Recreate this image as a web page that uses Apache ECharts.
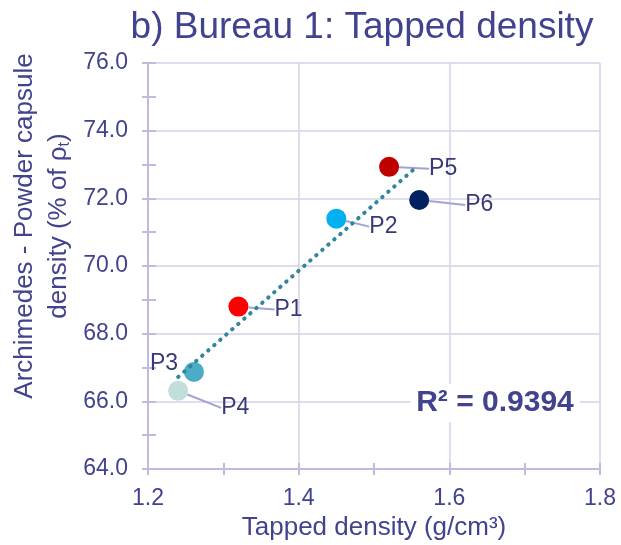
<!DOCTYPE html>
<html>
<head>
<meta charset="utf-8">
<script src="https://cdn.jsdelivr.net/npm/echarts@6/dist/echarts.min.js"></script>
<style>
  html, body { margin: 0; padding: 0; background: #fff; }
  #chart { width: 621px; height: 545px; }
</style>
</head>
<body>
<div id="chart"></div>
<script>
// data
const pointNames = ['P1', 'P2', 'P3', 'P4', 'P5', 'P6'];
const tappedDensity = [1.32, 1.45, 1.261, 1.24, 1.52, 1.56];
const capsuleDensity = [68.8, 71.4, 66.87, 66.31, 72.93, 71.95];
const trendX = [1.24, 1.555];
const trendY = [66.72, 72.9];
const rSquared = '0.9394';

// look
const pointColors = ['#ff0000', '#00b0f0', '#4bacc6', '#c2dedb', '#c00000', '#002060'];
const labelShift = [[21, 3], [18, 8], [-59, -8], [28, 17], [25, 2], [31, 5]];
const textColor = '#41438f';
const gridColor = '#d3d3ea';
const axisColor = '#bcbcde';

const chart = echarts.init(document.getElementById('chart'));

const points = pointNames.map(function (n, i) {
  return {
    name: n,
    value: [tappedDensity[i], capsuleDensity[i]],
    itemStyle: { color: pointColors[i], opacity: 1 },
    labelLine: { show: n !== 'P3' }
  };
});

const baseX = {
  type: 'value', min: 1.2, max: 1.8, interval: 0.2,
  axisLine: { show: true, lineStyle: { color: axisColor, width: 2 } }
};
const baseY = {
  type: 'value', min: 64, max: 76, interval: 2,
  axisLine: { show: true, lineStyle: { color: axisColor, width: 2 } }
};

chart.setOption({
  animation: false,
  title: {
    text: 'b) Bureau 1: Tapped density',
    left: 357, top: 4, textAlign: 'center',
    textStyle: { color: textColor, fontSize: 37, fontWeight: 'normal', fontFamily: 'Liberation Sans' }
  },
  grid: { left: 148, right: 21, top: 63, bottom: 76, outerBoundsMode: 'none' },
  xAxis: [
    Object.assign({}, baseX, {
      name: 'Tapped density (g/cm³)',
      nameLocation: 'middle', nameGap: 46,
      nameTextStyle: { color: textColor, fontSize: 26, fontFamily: 'Liberation Sans' },
      axisTick: { show: true, length: 6, lineStyle: { color: axisColor, width: 2 } },
      minorTick: { show: true, splitNumber: 2, length: 6, lineStyle: { color: axisColor, width: 2 } },
      axisLabel: { color: textColor, fontSize: 23, margin: 18, fontFamily: 'Liberation Sans',
        formatter: function (v) { return v.toFixed(1); } },
      splitLine: { show: true, lineStyle: { color: gridColor, width: 1.5 } }
    }),
    Object.assign({}, baseX, {
      position: 'bottom',
      axisTick: { show: true, inside: true, length: 6, lineStyle: { color: axisColor, width: 2 } },
      minorTick: { show: true, splitNumber: 2, length: 6, lineStyle: { color: axisColor, width: 2 } },
      axisLabel: { show: false },
      splitLine: { show: false }
    })
  ],
  yAxis: [
    Object.assign({}, baseY, {
      axisTick: { show: true, length: 6, lineStyle: { color: axisColor, width: 2 } },
      minorTick: { show: true, splitNumber: 2, length: 6, lineStyle: { color: axisColor, width: 2 } },
      axisLabel: { color: textColor, fontSize: 23, margin: 20, fontFamily: 'Liberation Sans',
        formatter: function (v) { return v.toFixed(1); } },
      splitLine: { show: true, lineStyle: { color: gridColor, width: 1.5 } }
    }),
    Object.assign({}, baseY, {
      position: 'left',
      axisTick: { show: true, inside: true, length: 8, lineStyle: { color: axisColor, width: 2 } },
      minorTick: { show: true, splitNumber: 2, length: 8, lineStyle: { color: axisColor, width: 2 } },
      axisLabel: { show: false },
      splitLine: { show: false }
    })
  ],
  graphic: [
    {
      type: 'text',
      x: 42, y: 226, rotation: Math.PI / 2,
      style: {
        text: '{a|Archimedes - Powder capsule}\n{a|density (% of ρ}{s|t}{a|)}',
        align: 'center', verticalAlign: 'middle',
        fill: textColor,
        rich: {
          a: { fontSize: 26, lineHeight: 34, fill: textColor, fontFamily: 'Liberation Sans' },
          s: { fontSize: 16, lineHeight: 34, fill: textColor, fontFamily: 'Liberation Sans', padding: [12, 0, 0, 0] }
        }
      }
    },
    {
      type: 'text',
      x: 495, y: 403, z: 10,
      style: {
        text: 'R² = ' + rSquared,
        align: 'center', verticalAlign: 'middle',
        fill: textColor, backgroundColor: '#fff', padding: [4, 6],
        font: 'bold 30px "Liberation Sans"'
      }
    }
  ],
  series: [
    {
      type: 'scatter',
      symbolSize: 20,
      z: 2,
      data: points,
      label: {
        show: true, position: 'right', distance: 5,
        formatter: '{b}', color: '#383a78', fontSize: 23, fontFamily: 'Liberation Sans'
      },
      labelLine: { show: true, showAbove: true, lineStyle: { color: '#a3a3d3', width: 2 } },
      labelLayout: function (p) {
        const s = labelShift[p.dataIndex];
        return { dx: s[0], dy: s[1] };
      }
    },
    {
      type: 'line',
      z: 3,
      symbol: 'none',
      data: trendX.map(function (x, i) { return [x, trendY[i]]; }),
      lineStyle: { color: '#31859c', width: 4, type: [0.5, 7.5], cap: 'round' }
    }
  ]
});
</script>
</body>
</html>
